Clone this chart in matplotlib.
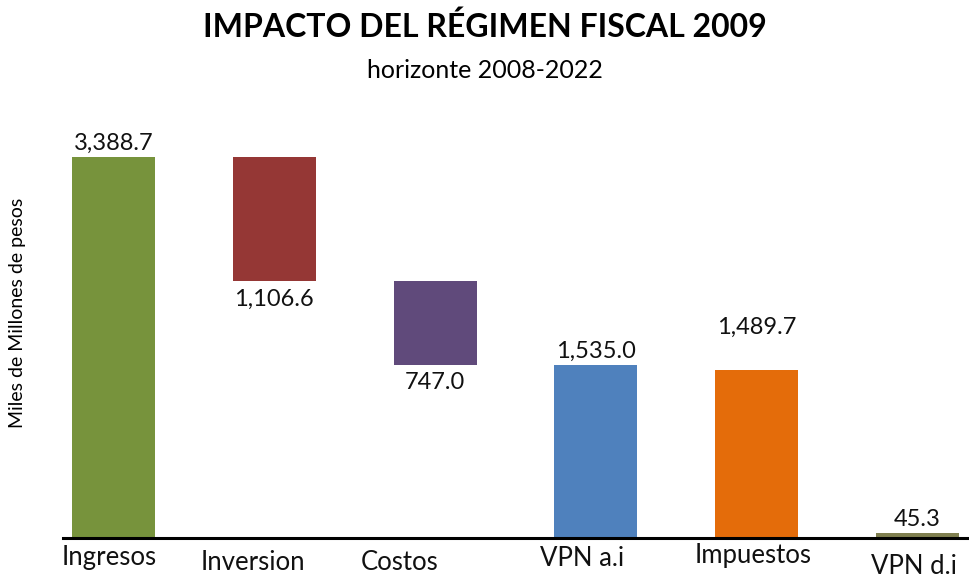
import matplotlib
matplotlib.use("Agg")
import matplotlib.pyplot as plt

# data
categories = ["Ingresos", "Inversion", "Costos", "VPN a.i", "Impuestos", "VPN d.i"]
values = [3388.7, 1106.6, 747.0, 1535.0, 1489.7, 45.3]
colors = ["#77933c", "#953735", "#604a7b", "#4f81bd", "#e46c0a", "#7f7f4f"]

# floating bars for Inversion and Costos, the rest start at zero
bases = [0, values[0] - values[1], values[0] - values[1] - values[2], 0, 0, 0]

# label placement (px offsets) as in the reference
label_off = [14, -18, -17, 14, 43, 13]           # from top (+) or bottom (-)
cat_off = [(-4, -19), (-21, -25), (-35, -24), (-14, -20), (-4, -17), (-4, -28)]

plt.rcParams["font.family"] = ["Lato", "DejaVu Sans"]

fig = plt.figure(figsize=(9.7, 5.8), dpi=100)
ax = fig.add_axes([63 / 970, 42 / 580, 905 / 970, 438 / 580])

x = range(len(categories))
ax.bar(x, values, bottom=bases, width=0.516, color=colors, zorder=2)

px = 0.72  # points per pixel
for i, v in enumerate(values):
    off = label_off[i]
    y = bases[i] + v if off > 0 else bases[i]
    ax.annotate(f"{v:,.1f}", xy=(i, y), xytext=(0, off * px),
                textcoords="offset points", ha="center", va="center",
                fontsize=17, color="#111111")

for i, name in enumerate(categories):
    dx, dy = cat_off[i]
    ax.annotate(name, xy=(i, 0), xytext=(dx * px, dy * px),
                textcoords="offset points", ha="center", va="center",
                fontsize=18.5, color="#111111", annotation_clip=False)

ax.set_xlim(-0.314, 5.314)
ax.set_ylim(0, 3895)
for s in ["top", "right", "left"]:
    ax.spines[s].set_visible(False)
ax.spines["bottom"].set_linewidth(2.2)
ax.set_xticks([])
ax.set_yticks([])

fig.text(0.5, 1 - 27 / 580, "IMPACTO DEL RÉGIMEN FISCAL 2009", ha="center",
         va="center", fontsize=23, fontweight="bold")
fig.text(0.5, 1 - 70 / 580, "horizonte 2008-2022", ha="center", va="center",
         fontsize=18)
fig.text(18 / 970, 1 - 313 / 580, "Miles de Millones de pesos", rotation=90,
         ha="center", va="center", fontsize=14)

fig.savefig("out.png", dpi=100)
